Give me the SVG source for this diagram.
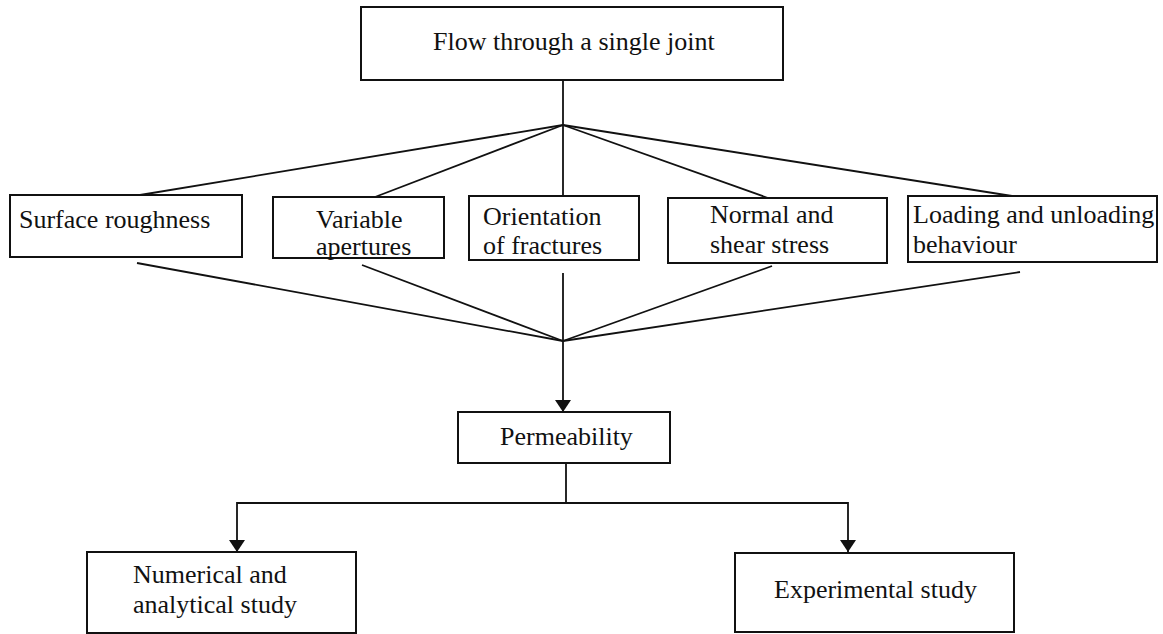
<svg xmlns="http://www.w3.org/2000/svg" width="1163" height="634" viewBox="0 0 1163 634">
  <style>
    .box { fill: #ffffff; stroke: #111111; stroke-width: 2; }
    .lbl { font-family: "Liberation Serif", "Times New Roman", serif; font-size: 26px; fill: #111111; }
    .ln { fill: none; stroke: #111111; stroke-width: 1.8; }
  </style>
  <defs>
    <marker id="arr" markerWidth="12" markerHeight="16" refX="12" refY="8" orient="auto" markerUnits="userSpaceOnUse">
      <path d="M0,0 L12,8 L0,16 z" fill="#111111"/>
    </marker>
  </defs>
  <rect width="1163" height="634" fill="#ffffff"/>

  <g id="connectors">
    <line class="ln" x1="563" y1="80" x2="563" y2="125"/>
    <line class="ln" x1="563" y1="125" x2="140" y2="195"/>
    <line class="ln" x1="563" y1="125" x2="375" y2="197"/>
    <line class="ln" x1="563" y1="125" x2="563" y2="196"/>
    <line class="ln" x1="563" y1="125" x2="768" y2="198"/>
    <line class="ln" x1="563" y1="125" x2="1012" y2="196"/>
    <line class="ln" x1="137" y1="263" x2="563" y2="341"/>
    <line class="ln" x1="362" y1="265" x2="563" y2="341"/>
    <line class="ln" x1="563" y1="273" x2="563" y2="341"/>
    <line class="ln" x1="772" y1="266" x2="563" y2="341"/>
    <line class="ln" x1="1020" y1="272" x2="563" y2="341"/>
    <line class="ln" x1="563" y1="341" x2="563" y2="412" marker-end="url(#arr)"/>
    <polyline class="ln" points="566,463 566,503"/>
    <polyline class="ln" points="566,503 237,503 237,552" marker-end="url(#arr)"/>
    <polyline class="ln" points="566,503 848,503 848,552" marker-end="url(#arr)"/>
  </g>

  <g id="flow">
    <rect class="box" x="361" y="7" width="422" height="73"/>
    <text class="lbl" x="433" y="50">Flow through a single joint</text>
  </g>
  <g id="surface">
    <rect class="box" x="10" y="195" width="232" height="62"/>
    <text class="lbl" x="19" y="228">Surface roughness</text>
  </g>
  <g id="variable">
    <rect class="box" x="273" y="197" width="171" height="61"/>
    <text class="lbl" x="316" y="228">Variable</text>
    <text class="lbl" x="316" y="255">apertures</text>
  </g>
  <g id="orientation">
    <rect class="box" x="469" y="196" width="170" height="64"/>
    <text class="lbl" x="483" y="225">Orientation</text>
    <text class="lbl" x="483" y="254">of fractures</text>
  </g>
  <g id="normal">
    <rect class="box" x="668" y="198" width="219" height="65"/>
    <text class="lbl" x="710" y="223">Normal and</text>
    <text class="lbl" x="710" y="253">shear stress</text>
  </g>
  <g id="loading">
    <rect class="box" x="908" y="196" width="249" height="66"/>
    <text class="lbl" x="913" y="223">Loading and unloading</text>
    <text class="lbl" x="913" y="253">behaviour</text>
  </g>
  <g id="permeability">
    <rect class="box" x="458" y="412" width="212" height="51"/>
    <text class="lbl" x="500" y="445">Permeability</text>
  </g>
  <g id="numerical">
    <rect class="box" x="87" y="552" width="269" height="81"/>
    <text class="lbl" x="133" y="583">Numerical and</text>
    <text class="lbl" x="133" y="613">analytical study</text>
  </g>
  <g id="experimental">
    <rect class="box" x="735" y="553" width="279" height="79"/>
    <text class="lbl" x="774" y="598">Experimental study</text>
  </g>
</svg>
